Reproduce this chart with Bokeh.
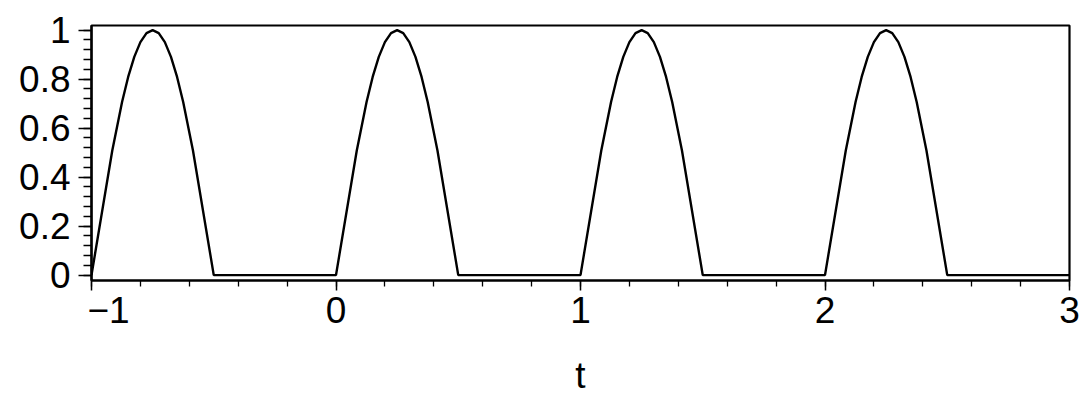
from bokeh.plotting import figure
from bokeh.models import FixedTicker, LinearAxis, CustomJSTickFormatter
from bokeh.embed import file_html
from bokeh.resources import INLINE

# Data (half-wave humps, one per unit of t)
hump_starts = [-1.0, 0.0, 1.0, 2.0]
hump_offsets = [0.0, 0.085, 0.125, 0.15, 0.175, 0.2, 0.225, 0.25,
                0.275, 0.3, 0.325, 0.35, 0.375, 0.415, 0.5]
hump_values = [0.0, 0.509, 0.707, 0.809, 0.891, 0.951, 0.988, 1.0,
               0.988, 0.951, 0.891, 0.809, 0.707, 0.509, 0.0]
t_end = 3.0
y_end = 0.0

x_ticks = [-1, 0, 1, 2, 3]
x_minor = [-1 + 0.2 * i for i in range(21)]
y_ticks = [0, 0.2, 0.4, 0.6, 0.8, 1]
y_labels = ["0", "0.2", "0.4", "0.6", "0.8", "1"]
y_minor = [0.04 * i for i in range(26)]

t = []
y = []
for s in hump_starts:
    for o, v in zip(hump_offsets, hump_values):
        t.append(s + o)
        y.append(v)
t.append(t_end)
y.append(y_end)

FONT = "Liberation Sans"
FS = "37px"

p = figure(width=1084, height=398, frame_width=978, frame_height=255,
           x_range=(-1, 3), y_range=(-0.022, 1.019),
           output_backend="svg", toolbar_location=None,
           x_axis_location=None,
           min_border_left=91, min_border_right=15,
           min_border_top=25, min_border_bottom=118)
p.grid.visible = False
p.background_fill_color = "white"
p.border_fill_color = "white"
p.outline_line_color = "black"
p.outline_line_width = 2.2
p.outline_line_alpha = 1

p.line(t, y, line_color="black", line_width=2.4)

# axis carrying the line and the tick marks (no labels)
xa = LinearAxis(ticker=FixedTicker(ticks=x_ticks, minor_ticks=x_minor))
xa.formatter = CustomJSTickFormatter(code="return '';")
xa.major_label_standoff = 0
xa.axis_line_width = 2.2
xa.axis_line_color = "black"
xa.major_tick_in = 0
xa.major_tick_out = 10
xa.minor_tick_in = 0
xa.minor_tick_out = 6
xa.major_tick_line_width = 1.5
xa.minor_tick_line_width = 1.3
p.add_layout(xa, "below")

# axis carrying the tick labels and the title (first label sits right of its tick)
first_shift = 0.07
label_ticks = [x_ticks[0] + first_shift] + x_ticks[1:]
xl = LinearAxis(ticker=FixedTicker(ticks=label_ticks, minor_ticks=[]))
xl.formatter = CustomJSTickFormatter(
    code="return tick < -0.5 ? '\u2212' + Math.round(Math.abs(tick)) : String(Math.round(tick));")
xl.axis_line_alpha = 0
xl.major_tick_in = 0
xl.major_tick_out = 0
xl.minor_tick_in = 0
xl.minor_tick_out = 0
xl.major_label_text_font = FONT
xl.major_label_text_font_size = FS
xl.major_label_text_color = "black"
xl.major_label_standoff = 6
xl.axis_label = "t"
xl.axis_label_text_font = FONT
xl.axis_label_text_font_size = FS
xl.axis_label_text_font_style = "normal"
xl.axis_label_text_color = "black"
xl.axis_label_standoff = 29
p.add_layout(xl, "below")

ya = p.yaxis[0]
ya.ticker = FixedTicker(ticks=y_ticks, minor_ticks=y_minor)
ya.major_label_overrides = {k: v for k, v in zip(y_ticks, y_labels)}
ya.axis_line_width = 2.2
ya.axis_line_color = "black"
ya.major_tick_in = 0
ya.major_tick_out = 13
ya.minor_tick_in = 0
ya.minor_tick_out = 8
ya.major_tick_line_width = 1.5
ya.minor_tick_line_width = 1.3
ya.major_label_text_font = FONT
ya.major_label_text_font_size = FS
ya.major_label_text_color = "black"
ya.major_label_standoff = 8

open("out.html", "w").write(file_html(p, INLINE))
